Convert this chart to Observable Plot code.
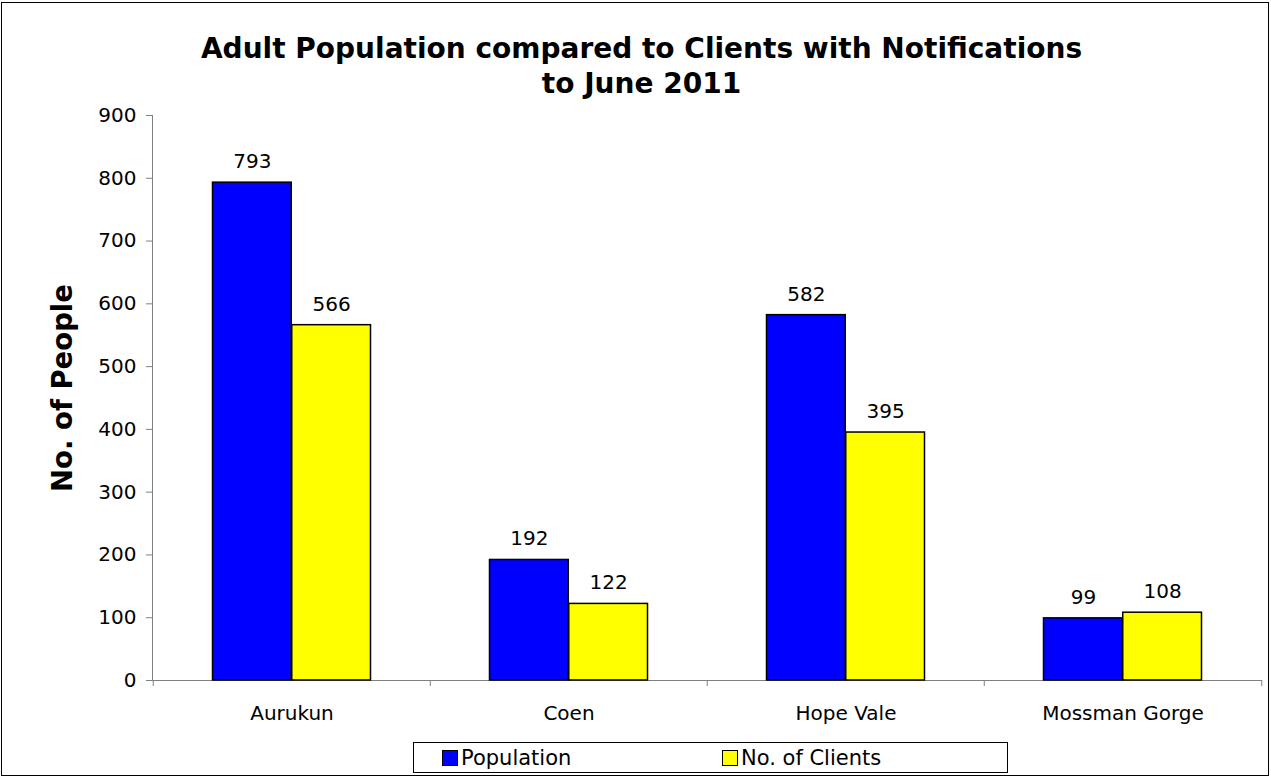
<!DOCTYPE html>
<html>
<head>
<meta charset="utf-8">
<script src="https://cdn.jsdelivr.net/npm/d3@7"></script>
<script src="https://cdn.jsdelivr.net/npm/@observablehq/plot@0.6"></script>
<style>
  html, body { margin: 0; padding: 0; background: #fff; }
  #wrap { position: relative; width: 1271px; height: 778px; font-family: "DejaVu Sans", Verdana, sans-serif; }
  #border { position: absolute; left: 1px; top: 2px; width: 1268px; height: 774px; border: 1px solid #000; box-sizing: border-box; pointer-events: none; }
  #title { position: absolute; left: 0; top: 31px; width: 1283px; text-align: center; font-weight: bold; font-size: 28px; line-height: 35px; color: #000; }
  #chart { position: absolute; left: 0; top: 0; }
  #legend { position: absolute; left: 413px; top: 742px; width: 595px; height: 31px; border: 1px solid #000; box-sizing: border-box; font-size: 21px; }
  .item { position: absolute; top: 3px; display: flex; align-items: center; height: 24px; }
  .sw { width: 14px; height: 14px; border: 1px solid #000; margin-right: 3px; }
</style>
</head>
<body>
<div id="wrap">
  <div id="chart"></div>
  <div id="title">Adult Population compared to Clients with Notifications<br>to June 2011</div>
  <div id="legend"></div>
  <div id="border"></div>
</div>
<script>
const categories = ["Aurukun", "Coen", "Hope Vale", "Mossman Gorge"];
const seriesNames = ["Population", "No. of Clients"];
const seriesColors = ["#0000FF", "#FFFF00"];
const population = [793, 192, 582, 99];
const clients = [566, 122, 395, 108];
const yTicks = [0, 100, 200, 300, 400, 500, 600, 700, 800, 900];

const W = 1271, H = 778;
const mL = 152, mR = 9, mT = 115, mB = 98;
const bw = (W - mL - mR) / categories.length;
const barW = 79.25;
const outer = (bw - 2 * barW) / 2;

const popData = categories.map((c, i) => ({category: c, value: population[i]}));
const cliData = categories.map((c, i) => ({category: c, value: clients[i]}));

const chart = Plot.plot({
  width: W, height: H,
  marginLeft: mL, marginRight: mR, marginTop: mT, marginBottom: mB,
  style: {fontFamily: "DejaVu Sans, Verdana, sans-serif", fontSize: "20px", color: "#000", background: "transparent"},
  x: {type: "band", domain: categories, padding: 0, label: null},
  y: {domain: [0, 900], label: null},
  marks: [
    Plot.axisY(yTicks, {tickSize: 6, tickPadding: 10, stroke: "#808080", fill: "#000", label: null}),
    Plot.axisX({tickSize: 0, tickPadding: 25, label: null}),
    Plot.axisX(categories, {tickSize: 6, tickFormat: () => "", dx: -bw / 2, stroke: "#808080", label: null}),
    Plot.axisX(categories.slice(-1), {tickSize: 6, tickFormat: () => "", dx: bw / 2, stroke: "#808080", label: null}),
    Plot.frame({anchor: "left", stroke: "#808080"}),
    Plot.ruleY([0], {stroke: "#808080"}),
    Plot.barY(popData, {x: "category", y: "value", fill: seriesColors[0], stroke: "#000", strokeWidth: 1.5, insetLeft: outer, insetRight: outer + barW}),
    Plot.barY(cliData, {x: "category", y: "value", fill: seriesColors[1], stroke: "#000", strokeWidth: 1.5, insetLeft: outer + barW, insetRight: outer}),
    Plot.text(popData, {x: "category", y: "value", text: d => String(d.value), dx: -barW / 2, dy: -21, fontSize: 20, fill: "#000"}),
    Plot.text(cliData, {x: "category", y: "value", text: d => String(d.value), dx: barW / 2, dy: -21, fontSize: 20, fill: "#000"}),
    Plot.text(["No. of People"], {frameAnchor: "left", rotate: -90, textAnchor: "middle", lineAnchor: "middle", dx: -89, dy: -10, fontSize: 27.5, fontWeight: "bold", fill: "#000"})
  ]
});
document.getElementById("chart").appendChild(chart);

const legend = document.getElementById("legend");
const lefts = [28, 308];
seriesNames.forEach((name, i) => {
  const it = document.createElement("div");
  it.className = "item";
  it.style.left = lefts[i] + "px";
  const sw = document.createElement("div");
  sw.className = "sw";
  sw.style.background = seriesColors[i];
  const t = document.createElement("span");
  t.textContent = name;
  it.appendChild(sw);
  it.appendChild(t);
  legend.appendChild(it);
});
</script>
</body>
</html>
